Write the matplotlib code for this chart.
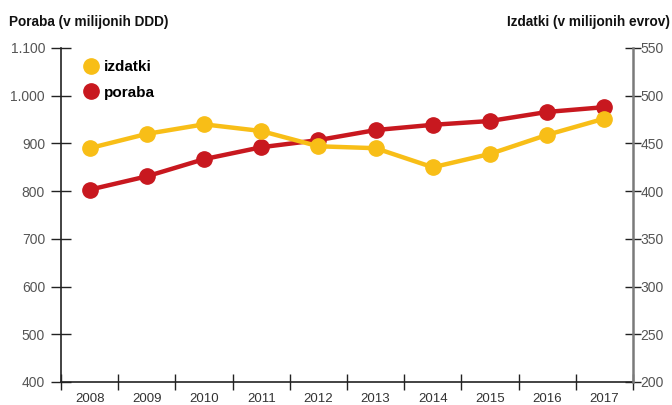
import numpy as np
import matplotlib
matplotlib.use("Agg")
import matplotlib.pyplot as plt
from matplotlib.lines import Line2D

# podatki
leta = ["2008", "2009", "2010", "2011", "2012", "2013", "2014", "2015", "2016", "2017"]
poraba = [803, 831, 867, 892, 907, 928, 939, 947, 966, 976]      # v milijonih DDD
izdatki = [445, 460, 470, 463, 447, 445, 425, 439, 459, 476]     # v milijonih evrov

levi_ticki = [400, 500, 600, 700, 800, 900, 1000, 1100]
levi_napisi = ["400", "500", "600", "700", "800", "900", "1.000", "1.100"]
desni_ticki = [200, 250, 300, 350, 400, 450, 500, 550]

rumena = "#F8BE17"
rdeca = "#C8181F"
pisava = ["Liberation Sans", "DejaVu Sans"]

plt.rcParams["font.family"] = pisava

fig = plt.figure(figsize=(6.72, 4.05), dpi=100)
ax = fig.add_axes([0.0908, 0.0568, 0.8512, 0.8247])
ax2 = ax.twinx()

x = np.arange(len(leta))
ax.plot(x, poraba, color=rdeca, lw=3.2, marker="o", ms=11, zorder=3)
ax2.plot(x, izdatki, color=rumena, lw=3.2, marker="o", ms=11, zorder=3)

ax.set_xlim(-0.5, len(leta) - 0.5)
ax.set_ylim(400, 1100)
ax2.set_ylim(200, 550)

# x os: crtice na mejah, napisi na sredini
ax.set_xticks(np.arange(-0.5, len(leta), 1))
ax.set_xticklabels([])
ax.set_xticks(x, minor=True)
ax.set_xticklabels(leta, minor=True, fontsize=9.5, color="#333333")
ax.tick_params(axis="x", which="major", direction="inout", length=12, width=1, color="#222222")
ax.tick_params(axis="x", which="minor", length=0, pad=8)

ax.set_yticks(levi_ticki)
ax.set_yticklabels(levi_napisi, fontsize=10, color="#555555")
ax.tick_params(axis="y", direction="inout", length=15, width=1, color="#222222", pad=4)

ax2.set_yticks(desni_ticki)
ax2.set_yticklabels([str(v) for v in desni_ticki], fontsize=10, color="#555555")
ax2.tick_params(axis="y", direction="inout", length=11, width=1, color="#222222", pad=0)

for a in (ax, ax2):
    a.spines["top"].set_visible(False)
ax.spines["right"].set_visible(False)
ax2.spines["left"].set_visible(False)
ax2.spines["bottom"].set_visible(False)
ax.spines["left"].set_color("#222222")
ax.spines["left"].set_linewidth(1.2)
ax.spines["bottom"].set_color("#222222")
ax.spines["bottom"].set_linewidth(1.2)
ax2.spines["right"].set_color("#7a7a7a")
ax2.spines["right"].set_linewidth(1.8)

fig.text(0.014, 0.946, "Poraba (v milijonih DDD)", fontsize=9.8, fontweight="bold",
         color="#111111", ha="left", va="center")
fig.text(0.997, 0.946, "Izdatki (v milijonih evrov)", fontsize=9.8, fontweight="bold",
         color="#111111", ha="right", va="center")

ročke = [
    Line2D([], [], color=rumena, marker="o", ms=11, lw=0, label="izdatki"),
    Line2D([], [], color=rdeca, marker="o", ms=11, lw=0, label="poraba"),
]
ax2.legend(handles=ročke, loc="upper left", bbox_to_anchor=(0.015, 1.005), frameon=False,
           handlelength=1.0, handletextpad=0.35, labelspacing=0.75,
           prop={"family": pisava, "weight": "bold", "size": 11})

fig.savefig("out.png", dpi=100)
